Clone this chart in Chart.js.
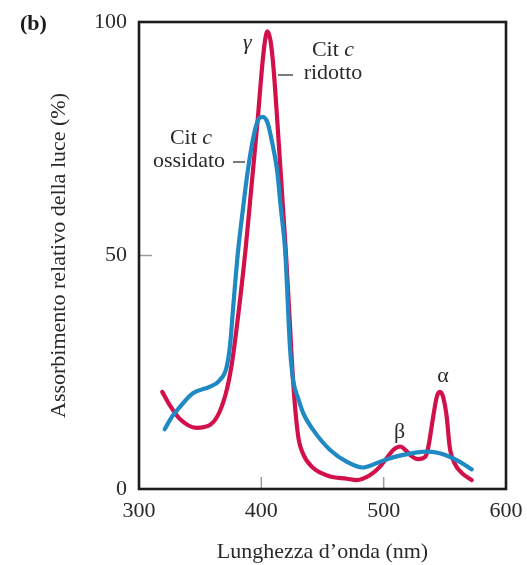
<!DOCTYPE html>
<html>
<head>
<meta charset="utf-8">
<script src="https://cdn.jsdelivr.net/npm/chart.js@4/dist/chart.umd.min.js"></script>
<style>
  html, body { margin: 0; padding: 0; background: #fff; }
  #wrap { width: 527px; height: 565px; }
</style>
</head>
<body>
<div id="wrap"><canvas id="c" width="527" height="565"></canvas></div>
<script>
// Cit c ridotto (red)
const ridottoNm  = [319, 325, 333, 347, 358, 366, 372, 376, 381, 387, 392, 397, 400.5, 403, 405, 407.5, 410, 413, 417, 420, 423, 426, 430, 434, 442, 455, 470, 478, 489, 497, 503, 508, 513.5, 518, 522, 528, 534, 536.5, 540.5, 543.5, 546, 548.5, 551.5, 554, 558, 564, 572];
const ridottoVal = [20.8, 18, 15.1, 13.1, 13.7, 16.6, 21.5, 27, 37, 51, 65, 79, 90, 96, 98, 96, 90, 79, 63, 51, 37, 23, 11.5, 7.6, 4.6, 2.8, 2.2, 1.9, 3, 4.8, 6.8, 8.4, 9.1, 8.3, 7.2, 6.4, 6.9, 9, 15.5, 19.8, 20.8, 19.8, 15.5, 9, 5.5, 3.4, 1.9];
// Cit c ossidato (blue)
const ossidatoNm  = [321, 327, 333.5, 344, 358, 366, 371.7, 374.5, 377, 381, 385, 389, 394, 398, 401, 405, 409, 413, 416, 419.5, 423.5, 426, 430, 434.3, 442.5, 456, 470, 483, 494, 504, 516, 526, 535, 545, 554, 563, 572];
const ossidatoVal = [12.8, 15.5, 17.6, 20.5, 21.9, 23.3, 26.2, 31, 39, 51, 60, 68.3, 76, 79.3, 79.7, 78.5, 74, 68, 60, 51, 30, 23.3, 19.5, 16.2, 12.6, 8.4, 5.8, 4.6, 5.5, 6.5, 7.3, 7.8, 8, 7.7, 6.9, 5.7, 4.2];

const xTicks = [300, 400, 500, 600];
const yTicks = [0, 50, 100];

const labels = [
  { text: "\u03B3", nm: 388.5, v: 95.5, italic: true },
  { text: "\u03B2", nm: 513, v: 12.2 },
  { text: "\u03B1", nm: 548.5, v: 24.2 }
];

const RED = '#d2104a';
const BLUE = '#1f89c4';
const SERIF = '"Liberation Serif", "DejaVu Serif", serif';
const TXT = '#2a2a2a';

function toPts(xs, ys) { return xs.map((x, i) => ({ x: x, y: ys[i] })); }

const framePlugin = {
  id: 'frame',
  beforeDatasetsDraw(chart) {
    const { ctx, chartArea: a, scales: { x, y } } = chart;
    ctx.save();
    ctx.strokeStyle = '#9a9a9a';
    ctx.lineWidth = 1.5;
    [400, 500].forEach(v => {
      const px = x.getPixelForValue(v);
      ctx.beginPath(); ctx.moveTo(px, a.bottom); ctx.lineTo(px, a.bottom - 12); ctx.stroke();
    });
    const py = y.getPixelForValue(50);
    ctx.beginPath(); ctx.moveTo(a.left, py); ctx.lineTo(a.left + 13, py); ctx.stroke();
    ctx.strokeStyle = '#1c1c1c';
    ctx.lineWidth = 2.6;
    ctx.strokeRect(a.left, a.top, a.right - a.left, a.bottom - a.top);
    ctx.restore();
  },
  afterDatasetsDraw(chart) {
    const { ctx, scales: { x, y } } = chart;
    ctx.save();
    ctx.fillStyle = TXT;
    ctx.textBaseline = 'middle';
    ctx.textAlign = 'center';
    labels.forEach(l => {
      ctx.font = (l.italic ? 'italic ' : '') + '22px ' + SERIF;
      ctx.fillText(l.text, x.getPixelForValue(l.nm), y.getPixelForValue(l.v));
    });
    function citC(cx, cy) {
      ctx.font = '22px ' + SERIF;
      const w1 = ctx.measureText('Cit ').width;
      ctx.font = 'italic 22px ' + SERIF;
      const w2 = ctx.measureText('c').width;
      const start = cx - (w1 + w2) / 2;
      ctx.textAlign = 'left';
      ctx.font = '22px ' + SERIF;
      ctx.fillText('Cit ', start, cy);
      ctx.font = 'italic 22px ' + SERIF;
      ctx.fillText('c', start + w1, cy);
      ctx.textAlign = 'center';
    }
    citC(333, 50);
    ctx.font = '22px ' + SERIF;
    ctx.fillText('ridotto', 333, 73);
    citC(191, 138);
    ctx.font = '22px ' + SERIF;
    ctx.fillText('ossidato', 189, 161);
    ctx.strokeStyle = '#333';
    ctx.lineWidth = 1.3;
    ctx.beginPath(); ctx.moveTo(278, 75); ctx.lineTo(293, 75); ctx.stroke();
    ctx.beginPath(); ctx.moveTo(233, 162); ctx.lineTo(245, 162); ctx.stroke();
    ctx.font = 'bold 22px ' + SERIF;
    ctx.textAlign = 'left';
    ctx.fillStyle = '#1a1a1a';
    ctx.fillText('(b)', 20, 24);
    ctx.restore();
  }
};

new Chart(document.getElementById('c'), {
  type: 'line',
  data: {
    datasets: [
      { label: 'Cit c ossidato', data: toPts(ossidatoNm, ossidatoVal), borderColor: BLUE, borderWidth: 4.2,
        pointRadius: 0, cubicInterpolationMode: 'monotone', fill: false, borderCapStyle: 'round', borderJoinStyle: 'round' },
      { label: 'Cit c ridotto', data: toPts(ridottoNm, ridottoVal), borderColor: RED, borderWidth: 4.2,
        pointRadius: 0, cubicInterpolationMode: 'monotone', fill: false, borderCapStyle: 'round', borderJoinStyle: 'round' }
    ]
  },
  options: {
    responsive: false,
    animation: false,
    events: [],
    layout: { padding: { left: 0, right: 21, top: 22, bottom: 0 } },
    plugins: { legend: { display: false }, tooltip: { enabled: false } },
    scales: {
      x: {
        type: 'linear', min: 300, max: 600,
        afterBuildTicks: s => { s.ticks = xTicks.map(v => ({ value: v })); },
        afterFit: s => { s.height = 76; s.paddingLeft = 0; s.paddingRight = 0; },
        grid: { display: false, drawTicks: false },
        border: { display: false },
        ticks: { color: TXT, padding: 9, maxRotation: 0, font: { family: SERIF, size: 22 } },
        title: { display: true, text: 'Lunghezza d\u2019onda (nm)', color: TXT,
                 font: { family: SERIF, size: 22 }, padding: { top: 0, bottom: 0 } }
      },
      y: {
        type: 'linear', min: 0, max: 100,
        afterBuildTicks: s => { s.ticks = yTicks.map(v => ({ value: v })); },
        afterFit: s => { s.width = 139; s.paddingTop = 0; s.paddingBottom = 0; },
        grid: { display: false, drawTicks: false },
        border: { display: false },
        ticks: { color: TXT, padding: 12, font: { family: SERIF, size: 22 } },
        title: { display: true, text: 'Assorbimento relativo della luce (%)', color: TXT,
                 font: { family: SERIF, size: 22 }, padding: { top: 46, bottom: 0 } }
      }
    }
  },
  plugins: [framePlugin]
});
</script>
</body>
</html>
